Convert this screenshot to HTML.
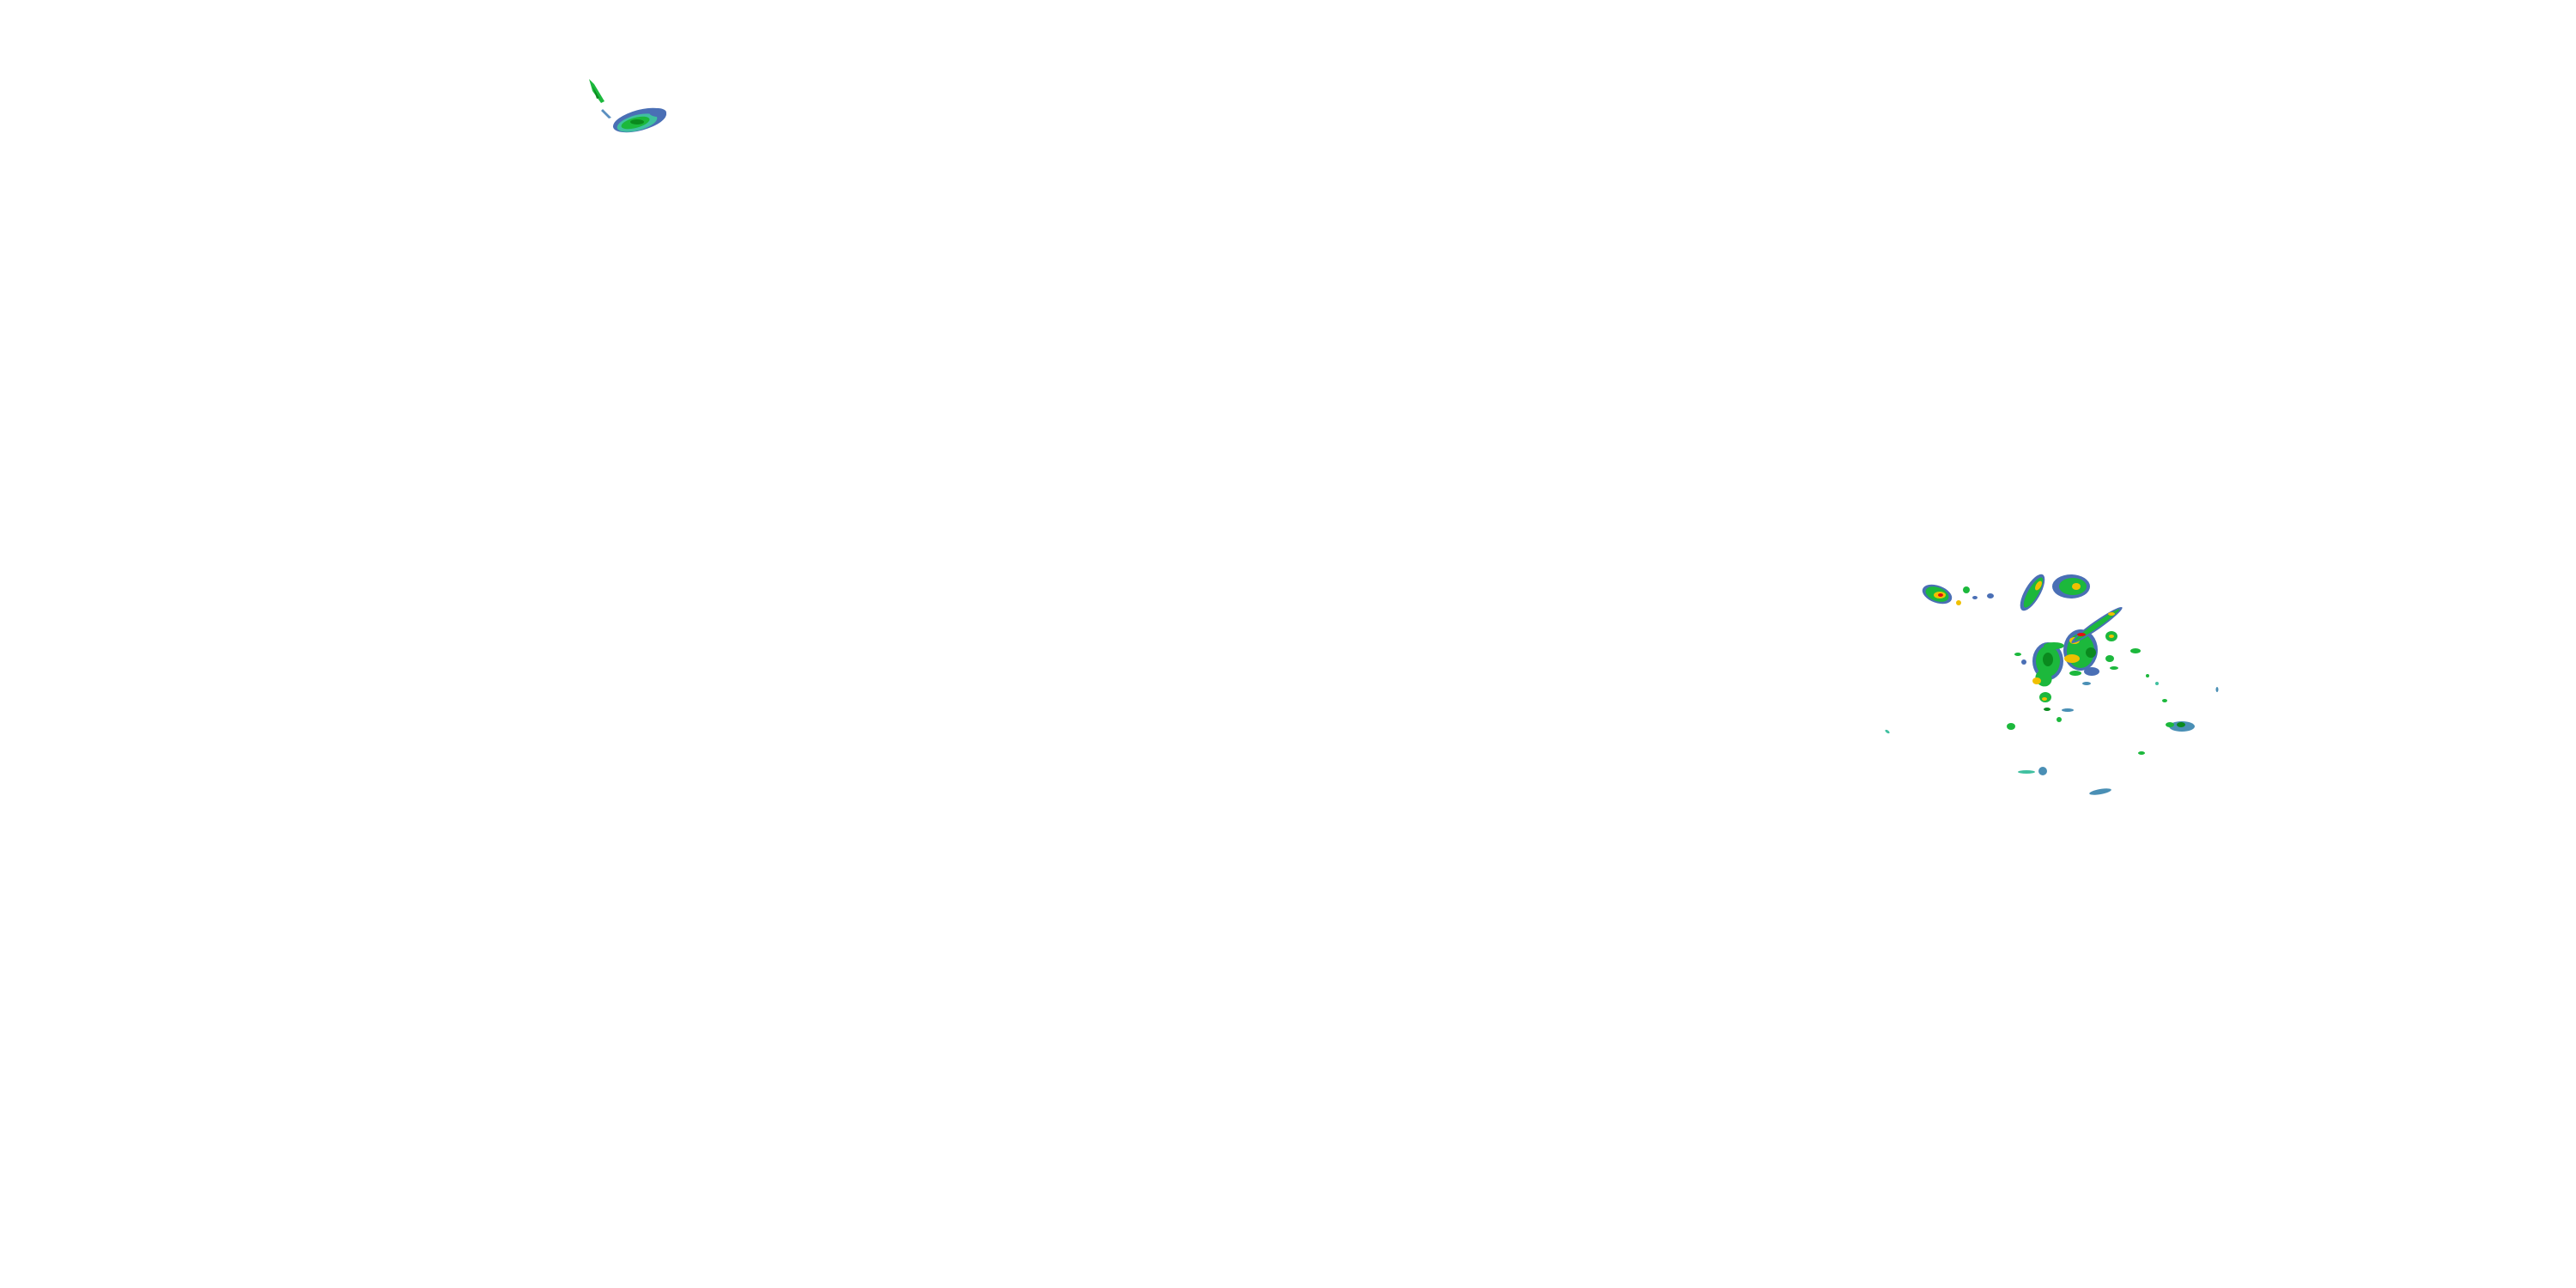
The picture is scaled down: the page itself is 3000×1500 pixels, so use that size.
<!DOCTYPE html>
<html><head><meta charset="utf-8"><style>html,body{margin:0;padding:0;background:#fff}svg{display:block}</style></head>
<body>
<svg width="3000" height="1500" viewBox="0 0 3000 1500" xmlns="http://www.w3.org/2000/svg">
<rect width="3000" height="1500" fill="#fff"/>
<!-- top-left -->
<g>
<path d="M686,92 L692,98 L704,118 L700,120 L690,106 Z" fill="#1cb83c"/>
<path d="M690,100 L698,114 L695,115 Z" fill="#0a8a1e"/>
<path d="M702,127 L712,137 L709,138 L700,129 Z" fill="#5a8fc0"/>
<ellipse cx="745" cy="140" rx="32" ry="12" transform="rotate(-15 745 140)" fill="#4a6fb5"/>
<ellipse cx="742" cy="143" rx="24" ry="9" transform="rotate(-15 742 143)" fill="#40c0a0"/>
<ellipse cx="740" cy="143" rx="17" ry="6" transform="rotate(-15 740 143)" fill="#1cb83c"/>
<ellipse cx="742" cy="142" rx="8" ry="3" fill="#0a8a1e"/>
<ellipse cx="766" cy="131" rx="10" ry="5" fill="#4a6fb5"/>
</g>
<!-- right cluster -->
<g>
<!-- A -->
<ellipse cx="2256" cy="692" rx="18" ry="10" transform="rotate(20 2256 692)" fill="#4a6fb5"/>
<ellipse cx="2256" cy="692" rx="14" ry="8" transform="rotate(20 2256 692)" fill="#1cb83c"/>
<ellipse cx="2259" cy="693" rx="7" ry="4" fill="#f0c000"/>
<ellipse cx="2260" cy="693" rx="3" ry="2" fill="#e01010"/>
<ellipse cx="2290" cy="687" rx="4" ry="4" fill="#1cb83c"/>
<ellipse cx="2281" cy="702" rx="3" ry="3" fill="#f0c000"/>
<ellipse cx="2300" cy="696" rx="3" ry="2" fill="#4a6fb5"/>
<ellipse cx="2318" cy="694" rx="4" ry="3" fill="#4a6fb5"/>
<!-- B -->
<ellipse cx="2367" cy="690" rx="9" ry="24" transform="rotate(30 2367 690)" fill="#4a6fb5"/>
<ellipse cx="2368" cy="690" rx="6" ry="20" transform="rotate(30 2368 690)" fill="#1cb83c"/>
<ellipse cx="2374" cy="682" rx="3" ry="6" transform="rotate(30 2374 682)" fill="#f0c000"/>
<!-- C -->
<ellipse cx="2412" cy="683" rx="22" ry="14" fill="#4a6fb5"/>
<ellipse cx="2414" cy="683" rx="16" ry="10" fill="#1cb83c"/>
<ellipse cx="2418" cy="683" rx="5" ry="4" fill="#f0c000"/>
<!-- D -->
<ellipse cx="2385" cy="770" rx="18" ry="22" fill="#4a6fb5"/>
<ellipse cx="2385" cy="770" rx="14" ry="18" fill="#1cb83c"/>
<ellipse cx="2380" cy="790" rx="10" ry="9" transform="rotate(40 2380 790)" fill="#1cb83c"/>
<ellipse cx="2372" cy="793" rx="5" ry="4" fill="#f0c000"/>
<ellipse cx="2385" cy="768" rx="6" ry="8" fill="#0a8a1e"/>
<ellipse cx="2392" cy="752" rx="12" ry="4" fill="#1cb83c"/>
<!-- E -->
<ellipse cx="2423" cy="757" rx="20" ry="24" fill="#4a6fb5"/>
<ellipse cx="2423" cy="758" rx="16" ry="20" fill="#1cb83c"/>
<ellipse cx="2413" cy="767" rx="9" ry="5" fill="#f0c000"/>
<ellipse cx="2416" cy="746" rx="6" ry="4" fill="#f0c000"/>
<ellipse cx="2435" cy="760" rx="6" ry="6" fill="#0a8a1e"/>
<!-- F -->
<ellipse cx="2442" cy="728" rx="36" ry="5" transform="rotate(-35 2442 728)" fill="#4a6fb5"/>
<ellipse cx="2442" cy="728" rx="32" ry="3" transform="rotate(-35 2442 728)" fill="#1cb83c"/>
<ellipse cx="2459" cy="715" rx="4" ry="2" fill="#f0c000"/>
<ellipse cx="2424" cy="739" rx="5" ry="2" fill="#e01010"/>
<!-- G, H, I... -->
<ellipse cx="2459" cy="741" rx="7" ry="6" fill="#1cb83c"/><ellipse cx="2459" cy="741" rx="3" ry="2" fill="#f0c000"/>
<ellipse cx="2382" cy="812" rx="7" ry="6" fill="#1cb83c"/><ellipse cx="2381" cy="814" rx="3" ry="2" fill="#f0c000"/>
<ellipse cx="2436" cy="782" rx="9" ry="5" fill="#4a6fb5"/>
<ellipse cx="2417" cy="784" rx="7" ry="3" fill="#1cb83c"/>
<ellipse cx="2408" cy="827" rx="7" ry="2" fill="#4a8fb5"/>
<ellipse cx="2384" cy="826" rx="4" ry="2" fill="#0a8a1e"/>
<ellipse cx="2398" cy="838" rx="3" ry="3" fill="#1cb83c"/>
<ellipse cx="2430" cy="796" rx="5" ry="2" fill="#4a8fb5"/>
<ellipse cx="2457" cy="767" rx="5" ry="4" fill="#1cb83c"/>
<ellipse cx="2462" cy="778" rx="5" ry="2" fill="#1cb83c"/>
<ellipse cx="2487" cy="758" rx="6" ry="3" fill="#1cb83c"/>
<ellipse cx="2501" cy="787" rx="2" ry="2" fill="#1cb83c"/>
<ellipse cx="2512" cy="796" rx="2" ry="2" fill="#40c0a0"/>
<ellipse cx="2521" cy="816" rx="3" ry="2" fill="#1cb83c"/>
<ellipse cx="2582" cy="803" rx="1.5" ry="3" fill="#4a8fb5"/>
<ellipse cx="2198" cy="852" rx="3" ry="1.5" transform="rotate(35 2198 852)" fill="#40c0a0"/>
<ellipse cx="2350" cy="762" rx="4" ry="2" fill="#1cb83c"/>
<ellipse cx="2357" cy="771" rx="3" ry="3" fill="#4a6fb5"/>
<!-- K -->
<ellipse cx="2541" cy="846" rx="15" ry="6" fill="#4a8fb5"/>
<ellipse cx="2527" cy="844" rx="5" ry="3" fill="#1cb83c"/>
<ellipse cx="2540" cy="844" rx="5" ry="3" fill="#0a8a1e"/>
<!-- L -->
<ellipse cx="2342" cy="846" rx="5" ry="4" fill="#1cb83c"/>
<!-- M -->
<ellipse cx="2360" cy="899" rx="10" ry="2" fill="#40c0a0"/>
<ellipse cx="2379" cy="898" rx="5" ry="5" fill="#4a8fb5"/>
<ellipse cx="2494" cy="877" rx="4" ry="2" fill="#1cb83c"/>
<!-- N -->
<ellipse cx="2446" cy="922" rx="13" ry="3" transform="rotate(-10 2446 922)" fill="#4a8fb5"/>
</g>
</svg>
</body></html>
